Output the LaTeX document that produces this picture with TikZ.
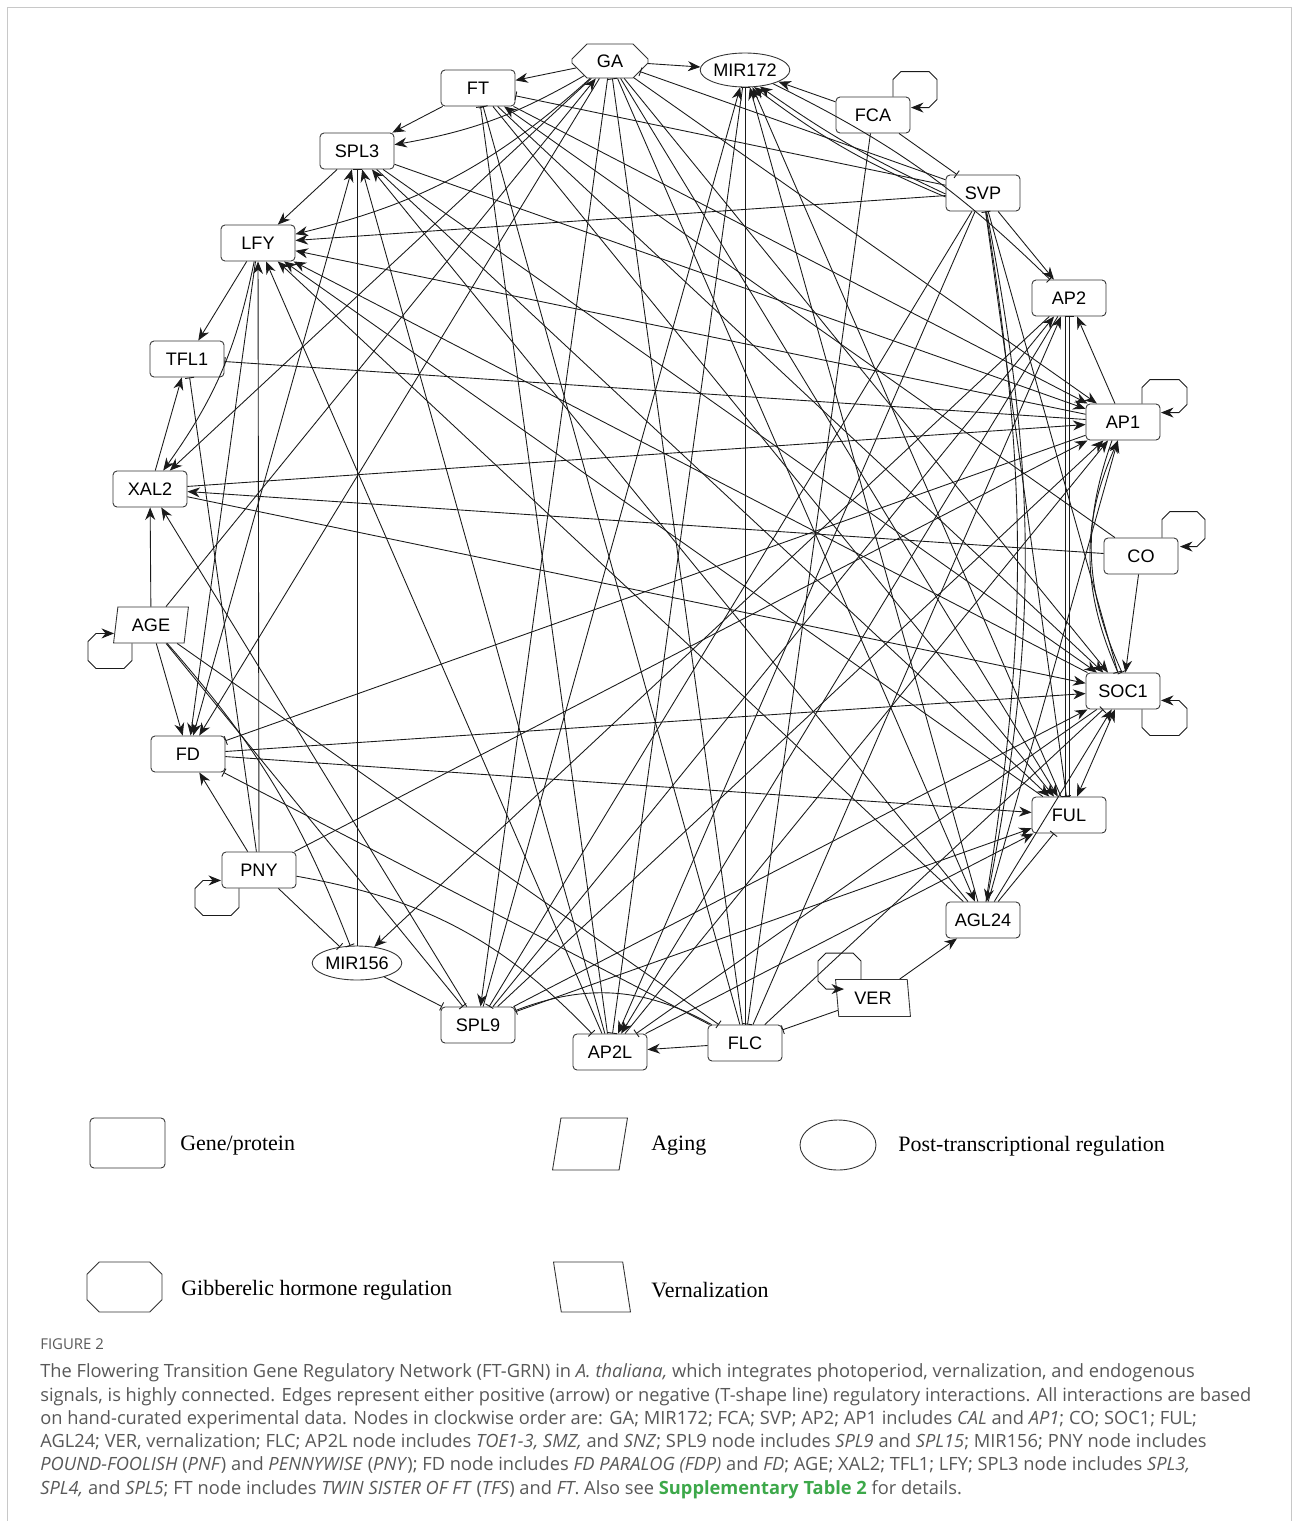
\documentclass[tikz,border=0pt]{standalone}
\usepackage{fontspec}
\setmainfont{Liberation Sans}
\newfontfamily\legendfont{Liberation Serif}
\newfontfamily\capfont{Open Sans}
\usetikzlibrary{shapes.geometric,shapes.misc,arrows.meta}

\definecolor{captiongrey}{HTML}{585858}
\definecolor{suppgreen}{HTML}{3DA84A}
\definecolor{edgeblack}{HTML}{1A1A1A}
\definecolor{framegrey}{HTML}{C8C8C8}

\tikzset{
  nodetext/.style={font=\fontsize{10.3}{12}\selectfont},
  gene/.style={nodetext, draw=black!80, fill=white, rounded corners=0.8mm,
    minimum width=14.8mm, minimum height=7.2mm, inner sep=0pt, line width=0.5pt},
  mir/.style={nodetext, ellipse, draw=black!80, fill=white,
    minimum width=15.2mm, minimum height=6.8mm, inner sep=0pt, line width=0.5pt},
  hormone/.style={nodetext, chamfered rectangle, draw=black!80, fill=white,
    chamfered rectangle xsep=3.4mm, chamfered rectangle ysep=1.7mm,
    minimum width=15.2mm, minimum height=6.8mm, inner sep=0pt, line width=0.5pt},
  aging/.style={nodetext, trapezium, trapezium left angle=79, trapezium right angle=101,
    trapezium stretches=true, draw=black!80, fill=white,
    minimum width=15mm, minimum height=7.2mm, inner sep=0pt, line width=0.5pt},
  vern/.style={nodetext, trapezium, trapezium left angle=98, trapezium right angle=82,
    trapezium stretches=true, draw=black!80, fill=white,
    minimum width=15mm, minimum height=7.4mm, inner sep=0pt, line width=0.5pt},
  act/.style={draw=edgeblack, line width=0.5pt, -{Stealth[length=2.5mm,width=2mm]}},
  inh/.style={draw=edgeblack, line width=0.5pt, -{Bar[width=1.8mm]}},
  both/.style={draw=edgeblack, line width=0.5pt,
    {Stealth[length=2.5mm,width=2mm]}-{Stealth[length=2.5mm,width=2mm]}},
  legtext/.style={font=\legendfont\fontsize{12.5}{14}\selectfont, anchor=west, inner sep=0pt},
  captext/.style={font=\capfont\fontsize{10.4}{12}\selectfont, text=captiongrey, anchor=base west, inner sep=0pt},
}

\begin{document}
\begin{tikzpicture}[x=0.02cm, y=-0.02cm]
\useasboundingbox (0,0) rectangle (1293,1521);
\draw[framegrey, line width=0.7pt] (7.5,1560) -- (7.5,7.5) -- (1291.5,7.5) -- (1291.5,1560);

% network nodes, clockwise from the top
\node[hormone] (GA) at (610,61) {GA};
\node[mir] (MIR172) at (745,70) {MIR172};
\node[gene] (FCA) at (873,115) {FCA};
\node[gene] (SVP) at (983,193) {SVP};
\node[gene] (AP2) at (1069,298) {AP2};
\node[gene] (AP1) at (1123,422) {AP1};
\node[gene] (CO) at (1141,556) {CO};
\node[gene] (SOC1) at (1123,691) {SOC1};
\node[gene] (FUL) at (1069,815) {FUL};
\node[gene] (AGL24) at (983,920) {AGL24};
\node[vern] (VER) at (873,998) {VER};
\node[gene] (FLC) at (745,1043) {FLC};
\node[gene] (AP2L) at (610,1052) {AP2L};
\node[gene] (SPL9) at (478,1025) {SPL9};
\node[mir] (MIR156) at (357,963) {MIR156};
\node[gene] (PNY) at (259,870) {PNY};
\node[gene] (FD) at (188,754) {FD};
\node[aging] (AGE) at (151,625) {AGE};
\node[gene] (XAL2) at (150,489) {XAL2};
\node[gene] (TFL1) at (187,359) {TFL1};
\node[gene] (LFY) at (258,243) {LFY};
\node[gene] (SPL3) at (357,151) {SPL3};
\node[gene] (FT) at (478,88) {FT};

% self loops
\draw[act] ([xshift=4mm]FCA.north) -- ++(0,-17) -- ++(8,-8) -- ++(28,0) -- ++(8,8) -- ++(0,20) -- ++(-8,8) -- ++(-18,0);
\draw[act] ([xshift=3.8mm]AP1.north) -- ++(0,-16) -- ++(8,-8) -- ++(29,0) -- ++(8,8) -- ++(0,17) -- ++(-8,8) -- ++(-18,0);
\draw[act] ([xshift=4.2mm]CO.north) -- ++(0,-18) -- ++(8,-8) -- ++(27,0) -- ++(8,8) -- ++(0,19) -- ++(-8,8) -- ++(-17,0);
\draw[act] ([xshift=3.8mm]SOC1.south) -- ++(0,18) -- ++(8,8) -- ++(29,0) -- ++(8,-8) -- ++(0,-19) -- ++(-8,-8) -- ++(-18,0);
\draw[act] ([xshift=-3.8mm]AGE.south) -- ++(0,17) -- ++(-8,8) -- ++(-28,0) -- ++(-8,-8) -- ++(0,-19) -- ++(8,-8) -- ++(18,0);
\draw[act] ([xshift=-4mm]PNY.south) -- ++(0,19) -- ++(-8,8) -- ++(-28,0) -- ++(-8,-8) -- ++(0,-19) -- ++(8,-8) -- ++(18,0);
\draw[act] ([xshift=-2.4mm]VER.north) -- ++(0,-18) -- ++(-8,-8) -- ++(-27,0) -- ++(-8,8) -- ++(0,20) -- ++(8,8) -- ++(18,0);

% GA
\draw[act] (GA) -- (FT);
\draw[act] (GA) -- (MIR172);
\draw[act] (GA) to[bend left=10] (SPL3);
\draw[act] (GA) to[bend left=14] (LFY);
\draw[act] (GA) -- (XAL2);
\draw[act] (GA) -- (FD);
\draw[act] (GA) -- (SPL9);
\draw[act] (GA) -- (AP1);
\draw[act] (GA) -- (SOC1);
\draw[act] (GA) -- (FUL);
\draw[act] (GA) -- (AGL24);
\draw[act] (AGE) -- (GA);
\draw[inh] (SVP) -- (GA);
\draw[inh] (FLC) -- (GA);

% FT
\draw[act] (FT) -- (SPL3);
\draw[act] (FT) -- (AP1);
\draw[act] (FT) -- (SOC1);
\draw[act] (FT) -- (FUL);
\draw[act] (CO) -- (FT);
\draw[inh] (SVP) -- (FT);
\draw[inh] (AP2L) -- (FT);
\draw[inh] (FLC) -- (FT);

% MIR172
\draw[act] (FCA) -- (MIR172);
\draw[act] ([yshift=-0.8mm]SVP.west) to[bend left=7] (MIR172.-62);
\draw[act] ([yshift=-0.2mm]SVP.west) to[bend left=5] (MIR172.-48);
\draw[act] (SPL9) -- (MIR172);
\draw[act] (FUL) -- (MIR172);
\draw[act] (AGL24) -- (MIR172);
\draw[inh] (FLC) -- (MIR172);
\draw[inh] (MIR172) -- (AP2L);
\draw[inh] (MIR172) to[bend left=9] (AP2);

% FCA
\draw[inh] (FCA) -- (SVP);
\draw[inh] (FCA) -- (FLC);

% SVP
\draw[act] (SVP) -- (LFY);
\draw[act] (SVP) -- (AP2);
\draw[inh] (SVP) -- (SOC1);
\draw[inh] (SVP) -- (FUL);
\draw[act] (SVP) to[bend left=11] (AGL24);
\draw[inh] (AGL24) to[bend right=9] (SVP);
\draw[inh] (SVP) -- (SPL9);
\draw[act] (SVP) -- (AP2L);

% AP2
\draw[act] (AP1) -- (AP2);
\draw[inh] ([xshift=-0.7mm]AP2.south) -- ([xshift=-0.7mm]FUL.north);
\draw[inh] (FUL) -- (AP2);
\draw[act] (AP2) -- (MIR156);
\draw[act] (SPL9) -- (AP2);
\draw[act] (FLC) -- (AP2);
\draw[act] (AP2) -- (AP2L);

% AP1
\draw[act] (AP1) -- (LFY);
\draw[inh] (AP1) -- (TFL1);
\draw[act] (XAL2) -- (AP1);
\draw[inh] (AP1) -- (FD);
\draw[act] (SPL3) -- (AP1);
\draw[act] (PNY) -- (AP1);
\draw[act] (SPL9) -- (AP1);
\draw[act] (AP2L) -- (AP1);
\draw[act] (AGL24) -- (AP1);
\draw[act] ([xshift=-1mm]SOC1.north) to[bend left=24] ([xshift=-1mm]AP1.south);
\draw[inh] ([xshift=-2.2mm]AP1.south) to[bend right=22] ([xshift=-0.2mm]SOC1.north);

% CO
\draw[act] (CO) -- (SOC1);
\draw[act] (CO) -- (XAL2);

% SOC1
\draw[act] (SOC1) -- (LFY);
\draw[act] (XAL2) -- (SOC1);
\draw[act] (FD) -- (SOC1);
\draw[act] (SPL3) -- (SOC1);
\draw[act] (SPL9) -- (SOC1);
\draw[act] (AGL24) -- (SOC1);
\draw[inh] (FLC) -- (SOC1);
\draw[both] (SOC1) -- (FUL);
\draw[inh] (SOC1) -- (AP2L);

% FUL
\draw[act] (FUL) -- (LFY);
\draw[act] (FD) -- (FUL);
\draw[act] (SPL9) -- (FUL);
\draw[act] (SPL3) -- (FUL);
\draw[inh] (AGL24) -- (FUL);
\draw[act] (AP2L) -- (FUL);

% AGL24 and VER
\draw[act] (AGL24) -- (LFY);
\draw[act] (AGL24) -- (SPL3);
\draw[act] (VER) -- (AGL24);
\draw[inh] (VER) -- (FLC);

% FLC
\draw[act] (FLC) -- (AP2L);
\draw[inh] (FLC) -- (FD);
\draw[inh] (FLC) to[bend right=25] (SPL9);
\draw[inh] (AGE) -- (FLC);

% AP2L
\draw[inh] (PNY) to[bend left=18] (AP2L);
\draw[act] (AP2L) -- (LFY);
\draw[act] (AP2L) -- (SPL3);

% LFY
\draw[act] (SPL3) -- (LFY);
\draw[act] (LFY) -- (TFL1);
\draw[act] (LFY) to[bend left=12] (XAL2);
\draw[act] (LFY) -- (FD);
\draw[act] (PNY) -- (LFY);
\draw[inh] (PNY) -- (TFL1);
\draw[act] (XAL2) -- (TFL1);

% XAL2, AGE, PNY, MIR156
\draw[act] (AGE) -- (XAL2);
\draw[act] (SPL9) -- (XAL2);
\draw[act] (AGE) -- (FD);
\draw[inh] (AGE) to[bend left=10] (MIR156);
\draw[inh] (AGE) -- (SPL9);
\draw[act] (PNY) -- (FD);
\draw[inh] (PNY) -- (MIR156);
\draw[inh] (MIR156) -- (SPL9);
\draw[inh] (MIR156) -- (SPL3);
\draw[both] (FD) -- (SPL3);

% legend
\node[gene, minimum width=15mm, minimum height=10mm] (leggene) at (127.5,1143) {};
\node[legtext] (leggenetext) at (180,1146) {Gene/protein};
\node[aging, trapezium left angle=82, trapezium right angle=98, minimum width=15mm, minimum height=10.4mm] (legaging) at (590,1144) {\phantom{A}};
\node[legtext] (legagingtext) at (651,1146) {Aging};
\node[mir, minimum width=15.2mm, minimum height=10mm] (legmir) at (838,1145) {};
\node[legtext] (legmirtext) at (898,1146) {Post-transcriptional regulation};
\node[hormone, minimum width=15mm, minimum height=10mm, chamfered rectangle xsep=3.4mm, chamfered rectangle ysep=3.2mm] (legga) at (124.5,1287) {\phantom{A}};
\node[legtext] (leggatext) at (181,1290) {Gibberelic hormone regulation};
\node[vern, trapezium left angle=97, trapezium right angle=83, minimum width=15.4mm, minimum height=10mm] (legvern) at (592,1287) {\phantom{A}};
\node[legtext] (legverntext) at (651,1290) {Vernalization};

% caption
\node[captext, font=\capfont\fontsize{8.5}{10}\selectfont] (figlabel) at (40,1349) {FIGURE 2};
\node[captext] (cap1) at (40,1377) {The Flowering Transition Gene Regulatory Network (FT-GRN) in \textit{A. thaliana,} which integrates photoperiod, vernalization, and endogenous};
\node[captext] (cap2) at (40,1401) {signals, is highly connected. Edges represent either positive (arrow) or negative (T-shape line) regulatory interactions. All interactions are based};
\node[captext] (cap3) at (40,1424) {on hand-curated experimental data. Nodes in clockwise order are: GA; MIR172; FCA; SVP; AP2; AP1 includes \textit{CAL} and \textit{AP1}; CO; SOC1; FUL;};
\node[captext] (cap4) at (40,1447) {AGL24; VER, vernalization; FLC; AP2L node includes \textit{TOE1-3, SMZ,} and \textit{SNZ}; SPL9 node includes \textit{SPL9} and \textit{SPL15}; MIR156; PNY node includes};
\node[captext] (cap5) at (40,1470) {\textit{POUND-FOOLISH} (\textit{PNF}) and \textit{PENNYWISE} (\textit{PNY}); FD node includes \textit{FD PARALOG (FDP)} and \textit{FD}; AGE; XAL2; TFL1; LFY; SPL3 node includes \textit{SPL3,}};
\node[captext] (cap6) at (40,1494) {\textit{SPL4,} and \textit{SPL5}; FT node includes \textit{TWIN SISTER OF FT} (\textit{TFS}) and \textit{FT}. Also see \textbf{\textcolor{suppgreen}{Supplementary Table 2}} for details.};
\end{tikzpicture}
\end{document}
